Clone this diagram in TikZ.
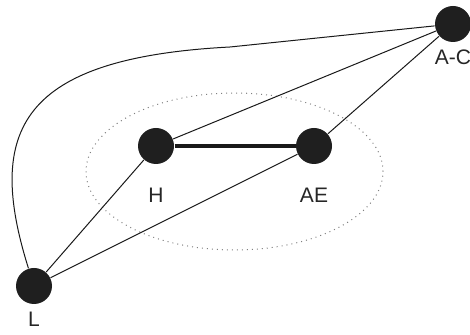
\documentclass[tikz,border=0pt]{standalone}
\usepackage{fontspec}
\setmainfont{Liberation Sans}
\usepackage{tikz}
\tikzset{every picture/.style={line width=0.5pt}}
\usetikzlibrary{positioning, calc}

\begin{document}
\begin{tikzpicture}[
		x=0.5pt, y=-0.5pt,
		% Actor marker style
		actor/.style={
			circle,
			fill=black!88,
			minimum size=18pt,
			inner sep=0pt,
			label distance=3.5pt
		},
		% Links between actors
		link/.style={
			black!90
		},
		every label/.style={
			font=\fontsize{10.5}{12}\selectfont,
			text=black!85
		}
		]
		
		\useasboundingbox (0,0) rectangle (470,335);
		
		% --- Cluster boundary ---
		\draw[dotted, gray] (234.5,171.5) ellipse (74.25pt and 39.25pt);
		
		% --- Actors ---
		\node[actor, label=below:{A-C}] (AC) at (453,24) {};
		\node[actor, label={[label distance=8pt]below:{H}}] (H) at (156,146) {};
		\node[actor, label={[label distance=8pt]below:{AE}}] (AE) at (314,146) {};
		\node[actor, label=below:{L}] (L) at (34,286) {};
		
		% --- Links ---
		\draw[link] (L) -- (H);
		\draw[link] (L) -- (AE);
		\draw[link] (H) -- (AC);
		\draw[link] (AE) -- (AC);
		\draw[link, line width=2pt] (H) -- (AE);
		
		% Outer curved link from L round to A-C
		\coordinate (bend) at (230,47);
		\draw[link] (L) .. controls (-15,130) and (20,58) .. (bend) -- (AC);
		
	\end{tikzpicture}
\end{document}
